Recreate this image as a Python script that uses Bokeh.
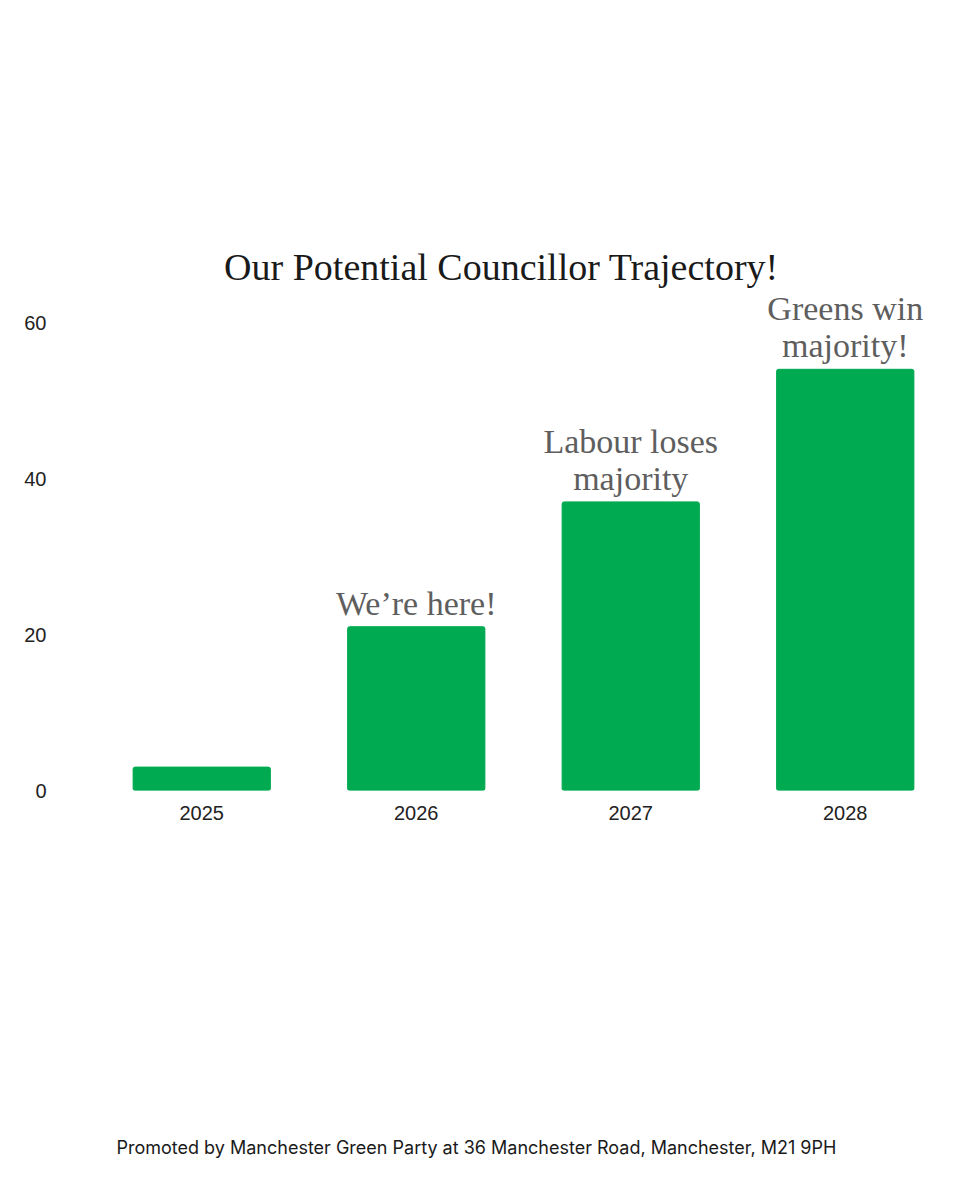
from bokeh.plotting import figure
from bokeh.layouts import column
from bokeh.models import Range1d, FixedTicker, Label, ColumnDataSource
from bokeh.embed import file_html
from bokeh.resources import INLINE

years = ["2025", "2026", "2027", "2028"]
councillors = [3, 21, 37, 54]
notes = ["", "We\u2019re here!", "Labour loses\nmajority", "Greens win\nmajority!"]
y_ticks = [0, 20, 40, 60]
title_text = "Our Potential Councillor Trajectory!"
footer_text = "Promoted by Manchester Green Party at 36 Manchester Road, Manchester, M21 9PH"

GREEN = "#00aa50"

TOP_H = 860
FRAME_TOP = 240
FRAME_BOTTOM = 790
FRAME_LEFT = 94
FRAME_RIGHT = 952
PX_PER_UNIT = 7.8
y_end = (FRAME_BOTTOM - FRAME_TOP) / PX_PER_UNIT

p = figure(width=960, height=TOP_H, x_range=years, y_range=Range1d(0, y_end),
           output_backend="svg", toolbar_location=None,
           min_border_left=FRAME_LEFT, min_border_right=960 - FRAME_RIGHT,
           min_border_top=FRAME_TOP, min_border_bottom=TOP_H - FRAME_BOTTOM)
p.x_range.range_padding = 0
p.outline_line_color = None
p.grid.grid_line_color = None
p.background_fill_color = "white"
p.border_fill_color = "white"

src = ColumnDataSource(dict(years=years, councillors=councillors, notes=notes))
p.vbar(x="years", top="councillors", width=0.64, source=src,
       fill_color=GREEN, line_color=GREEN, border_radius=2)

p.text(x="years", y="councillors", text="notes", source=src,
       text_align="center", text_baseline="bottom", y_offset=-5,
       text_font_size="34px", text_color="#5e5e5e",
       text_font={"value": "Liberation Serif"}, text_line_height=1.0)

p.yaxis.ticker = FixedTicker(ticks=y_ticks)
for ax in (p.xaxis[0], p.yaxis[0]):
    ax.axis_line_color = None
    ax.major_tick_line_color = None
    ax.minor_tick_line_color = None
    ax.major_label_text_font = "Liberation Sans"
    ax.major_label_text_font_size = "20px"
    ax.major_label_text_color = "#222222"
p.yaxis.major_label_standoff = 42
p.xaxis.major_label_standoff = 9

p.add_layout(Label(x=407, y=FRAME_BOTTOM - 266, x_units="screen", y_units="screen",
                   text=title_text, text_align="center", text_baseline="alphabetic",
                   text_font="Liberation Serif", text_font_size="38px",
                   text_color="#1a1a1a"))

# footer strip (its frame is aligned with the chart's frame by the column layout)
FOOT_H = 1200 - TOP_H
p2 = figure(width=960, height=FOOT_H, x_range=Range1d(FRAME_LEFT, FRAME_RIGHT),
            y_range=Range1d(0, FOOT_H),
            output_backend="svg", toolbar_location=None,
            x_axis_type=None, y_axis_type=None, min_border=0)
p2.outline_line_color = None
p2.grid.grid_line_color = None
p2.background_fill_color = "white"
p2.border_fill_color = "white"
p2.add_layout(Label(x=116, y=FOOT_H - (1147 - TOP_H), text=footer_text,
                    text_align="left", text_baseline="middle",
                    text_font="Inter", text_font_size="18px", text_color="#1a1a1a"))

layout = column(p, p2, spacing=0)
open("out.html", "w").write(file_html(layout, INLINE))
